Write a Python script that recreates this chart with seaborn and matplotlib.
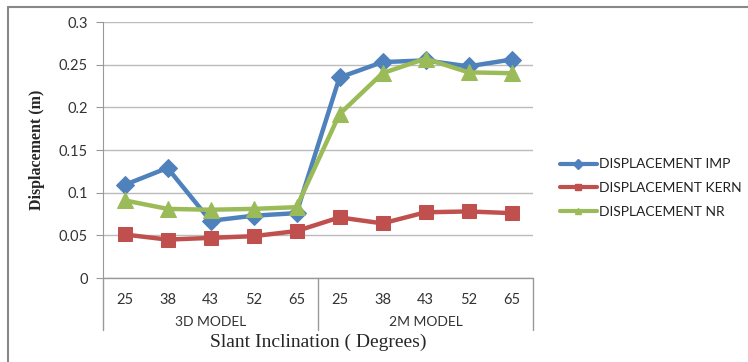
import matplotlib
matplotlib.use("Agg")
import matplotlib.pyplot as plt
from matplotlib.lines import Line2D
import seaborn as sns
import pandas as pd
import numpy as np

# Slant inclinations per model group
groups = ["3D MODEL", "2M MODEL"]
angles = ["25", "38", "43", "52", "65"]

disp_imp = [0.109, 0.129, 0.067, 0.073, 0.076, 0.235, 0.253, 0.255, 0.248, 0.256]
disp_kern = [0.051, 0.045, 0.047, 0.049, 0.055, 0.071, 0.064, 0.077, 0.078, 0.076]
disp_nr = [0.091, 0.081, 0.080, 0.081, 0.083, 0.192, 0.240, 0.257, 0.241, 0.240]

series_names = ["DISPLACEMENT IMP", "DISPLACEMENT KERN", "DISPLACEMENT NR"]
series_values = [disp_imp, disp_kern, disp_nr]
colors = ["#4F81BD", "#C0504D", "#9BBB59"]
markers = ["D", "s", "^"]
msizes = [9, 10, 11]

tick_labels = angles * len(groups)
n = len(tick_labels)

rows = []
for name, vals in zip(series_names, series_values):
    for i, v in enumerate(vals):
        rows.append({"pos": i, "value": v, "series": name})
df = pd.DataFrame(rows)

sns.set_style("white")
plt.rcParams["font.family"] = ["Lato", "DejaVu Sans"]

W, H = 748, 362
fig = plt.figure(figsize=(W / 100, H / 100), dpi=100)
ax = fig.add_axes([103 / W, 1 - 278 / H, 430 / W, 256 / H])

for name, col, mk, ms in zip(series_names, colors, markers, msizes):
    sub = df[df["series"] == name]
    sns.lineplot(data=sub, x="pos", y="value", ax=ax, color=col, linewidth=3.2,
                 marker=mk, markersize=ms, markeredgecolor=col, legend=False)

ax.set_xlim(-0.5, n - 0.5)
ax.set_ylim(0, 0.3)
ax.set_yticks(np.arange(0, 0.301, 0.05))
ax.set_yticklabels(["0", "0.05", "0.1", "0.15", "0.2", "0.25", "0.3"],
                   fontsize=10.5, color="#333333")
ax.yaxis.grid(True, color="#BBBBBB", linewidth=1.0)
ax.set_axisbelow(True)
for s in ["top", "right", "bottom"]:
    ax.spines[s].set_visible(False)
ax.spines["left"].set_color("#999999")
ax.tick_params(axis="y", length=5, color="#999999", left=True, pad=6)

ax.set_xticks(range(n))
ax.set_xticklabels(tick_labels, fontsize=10.5, color="#333333")
ax.tick_params(axis="x", length=0, pad=11)
ax.set_xlabel("")
ax.set_ylabel("Displacement (m)", fontsize=11.5, fontweight="bold",
              family="Liberation Serif", labelpad=10)

# Group separators and group labels under the category axis
trans = ax.get_xaxis_transform()
y_low = (278 - 330) / 256
for xb in [-0.5, 4.5, 9.5]:
    ax.add_line(Line2D([xb, xb], [0, y_low], transform=trans, color="#999999",
                       linewidth=1.0, clip_on=False))
ax.add_line(Line2D([-0.5, 9.5], [0, 0], transform=trans, color="#999999",
                   linewidth=1.0, clip_on=False))
for gi, g in enumerate(groups):
    ax.text(gi * 5 + 2, (278 - 322) / 256, g, transform=trans, ha="center",
            va="center", fontsize=10, color="#333333")

fig.text(318 / W, 1 - 342 / H, "Slant Inclination ( Degrees)", ha="center",
         va="center", fontsize=14, family="Liberation Serif")

# Legend
handles = [Line2D([0], [0], color=c, linewidth=3, marker=m, markersize=5,
                  markeredgecolor=c) for c, m in zip(colors, markers)]
fig.legend(handles, series_names, loc="upper left",
           bbox_to_anchor=(547 / W, 1 - 146 / H), frameon=False, fontsize=10,
           handlelength=2.7, handletextpad=0.15, labelspacing=0.85,
           labelcolor="#222222")

# Outer chart border
fig.add_artist(Line2D([8 / W, 8 / W], [0, 1 - 7 / H], transform=fig.transFigure,
                      color="#888888", linewidth=1.5))
fig.add_artist(Line2D([8 / W, 1], [1 - 7 / H, 1 - 7 / H], transform=fig.transFigure,
                      color="#888888", linewidth=1.5))

fig.savefig("out.png", dpi=100)
